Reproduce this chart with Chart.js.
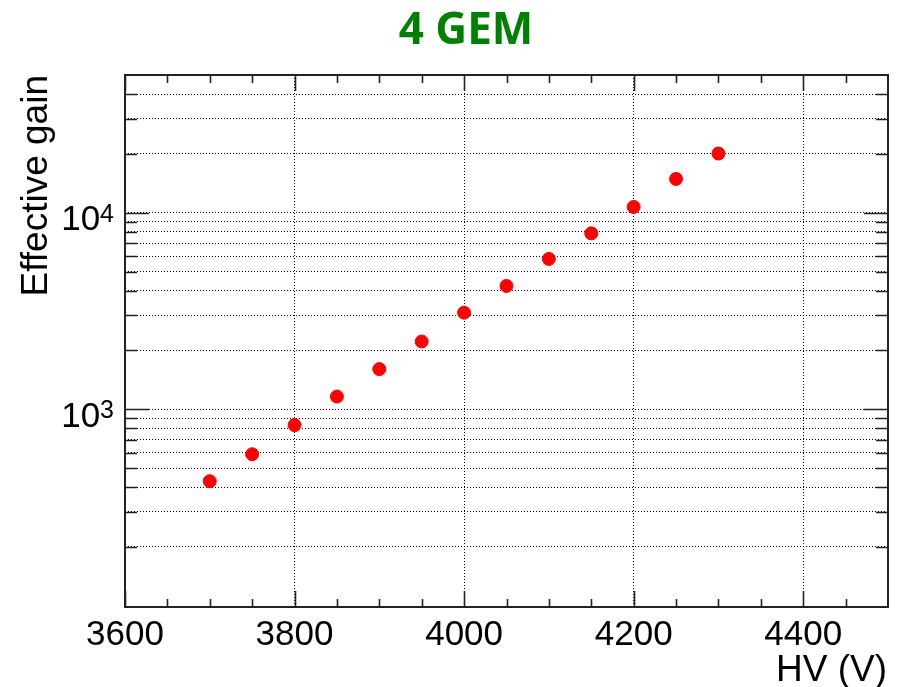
<!DOCTYPE html>
<html>
<head>
<meta charset="utf-8">
<title>4 GEM</title>
<script src="https://cdn.jsdelivr.net/npm/chart.js@4.4.1/dist/chart.umd.min.js"></script>
<style>
  html, body { margin: 0; padding: 0; background: #ffffff; }
  #wrap { width: 901px; height: 687px; position: relative; }
</style>
</head>
<body>
<div id="wrap"><canvas id="c" width="901" height="687"></canvas></div>
<script>
// Measured effective gain versus applied high voltage
const hv   = [3700, 3750, 3800, 3850, 3900, 3950, 4000, 4050, 4100, 4150, 4200, 4250, 4300];
const gain = [430, 590, 830, 1160, 1600, 2210, 3100, 4240, 5820, 7850, 10700, 14850, 20000];

// Axis ranges
const xRange = [3600, 4500];
const yRange = [98.5, 50200];

// Tick positions and labels
const xLabelTicks = [3600, 3800, 4000, 4200, 4400];
const xMinorTicks = [3650, 3700, 3750, 3850, 3900, 3950, 4050, 4100, 4150, 4250, 4300, 4350, 4450];
const xGridTicks  = [3800, 4000, 4200, 4400];
const yLabelTicks = [1000, 10000];
const yLabelExp   = ['3', '4'];
const yMinorTicks = [200, 300, 400, 500, 600, 700, 800, 900,
                     2000, 3000, 4000, 5000, 6000, 7000, 8000, 9000,
                     20000, 30000, 40000];

const titleText = '4 GEM';
const xTitle = 'HV (V)';
const yTitle = 'Effective gain';

const axisFont = '"Liberation Sans", Arial, Helvetica, sans-serif';

// Frame, inward ticks, tick labels and titles, drawn in ROOT style
const framePlugin = {
  id: 'rootFrame',
  afterDatasetsDraw(chart) {
    const ctx = chart.ctx;
    const a = chart.chartArea;
    const xs = chart.scales.x, ys = chart.scales.y;
    ctx.save();
    ctx.strokeStyle = '#222';
    ctx.lineWidth = 2;
    ctx.strokeRect(a.left, a.top, a.right - a.left, a.bottom - a.top);

    ctx.lineWidth = 1.6;
    ctx.beginPath();
    const xTick = (v, len) => {
      const p = Math.round(xs.getPixelForValue(v)) + 0.5;
      ctx.moveTo(p, a.bottom); ctx.lineTo(p, a.bottom - len);
      ctx.moveTo(p, a.top);    ctx.lineTo(p, a.top + len);
    };
    const yTick = (v, len) => {
      const p = Math.round(ys.getPixelForValue(v)) + 0.5;
      ctx.moveTo(a.left, p);  ctx.lineTo(a.left + len, p);
      ctx.moveTo(a.right, p); ctx.lineTo(a.right - len, p);
    };
    xLabelTicks.forEach(v => xTick(v, 16));
    xMinorTicks.forEach(v => xTick(v, 8));
    yLabelTicks.forEach(v => yTick(v, 24));
    yMinorTicks.forEach(v => yTick(v, 12));
    ctx.stroke();

    // x tick labels
    ctx.fillStyle = '#000';
    ctx.font = '35px ' + axisFont;
    ctx.textAlign = 'center';
    ctx.textBaseline = 'alphabetic';
    xLabelTicks.forEach(v => {
      ctx.fillText(String(v), xs.getPixelForValue(v), 645);
    });

    // y tick labels as powers of ten
    yLabelTicks.forEach((v, i) => {
      const py = ys.getPixelForValue(v);
      ctx.font = '25px ' + axisFont;
      ctx.textAlign = 'right';
      const supW = ctx.measureText(yLabelExp[i]).width;
      ctx.fillText(yLabelExp[i], 114, py + 9);
      ctx.font = '35px ' + axisFont;
      ctx.fillText('10', 114 - supW, py + 17.5);
    });

    // axis titles
    ctx.font = '37px ' + axisFont;
    ctx.textAlign = 'right';
    ctx.fillText(xTitle, 887, 681);
    ctx.save();
    ctx.translate(47, a.top);
    ctx.rotate(-Math.PI / 2);
    ctx.textAlign = 'right';
    ctx.fillText(yTitle, 0, 0);
    ctx.restore();

    // chart title
    ctx.font = 'bold 44px "Open Sans", "Liberation Sans", sans-serif';
    ctx.fillStyle = '#008000';
    ctx.textAlign = 'center';
    ctx.fillText(titleText, 466, 44);
    ctx.restore();
  }
};

new Chart(document.getElementById('c'), {
  type: 'scatter',
  data: {
    datasets: [{
      data: hv.map((x, i) => ({ x: x, y: gain[i] })),
      backgroundColor: '#ff0000',
      borderColor: '#ff0000',
      borderWidth: 1,
      pointRadius: 6.5,
      pointHoverRadius: 6.5
    }]
  },
  options: {
    responsive: false,
    devicePixelRatio: 1,
    animation: false,
    layout: { padding: { left: 125, right: 13, top: 75, bottom: 80 } },
    plugins: { legend: { display: false }, tooltip: { enabled: false }, title: { display: false } },
    scales: {
      x: {
        type: 'linear',
        min: xRange[0], max: xRange[1],
        ticks: { display: false },
        grid: { color: '#000', lineWidth: 1, drawTicks: false },
        border: { display: false, dash: [1, 2] },
        afterBuildTicks(scale) { scale.ticks = xGridTicks.map(v => ({ value: v })); },
        afterFit(scale) { scale.height = 0; }
      },
      y: {
        type: 'logarithmic',
        min: yRange[0], max: yRange[1],
        ticks: { display: false },
        grid: { color: '#000', lineWidth: 1, drawTicks: false },
        border: { display: false, dash: [1, 2] },
        afterBuildTicks(scale) {
          scale.ticks = yLabelTicks.concat(yMinorTicks).sort((p, q) => p - q).map(v => ({ value: v }));
        },
        afterFit(scale) { scale.width = 0; }
      }
    }
  },
  plugins: [framePlugin]
});
</script>
</body>
</html>
